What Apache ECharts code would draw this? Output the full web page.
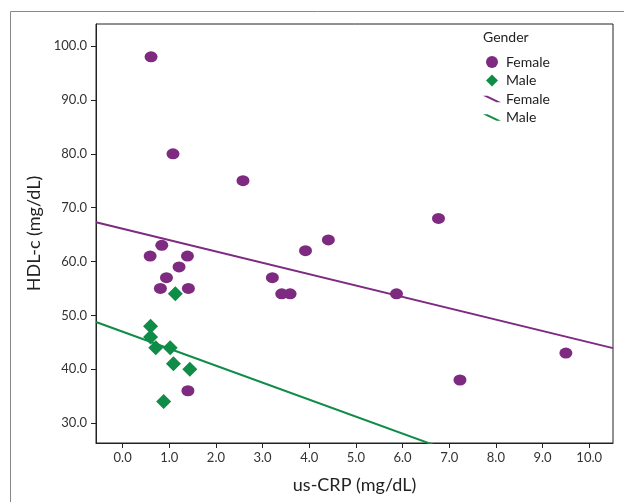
<!DOCTYPE html>
<html>
<head>
<meta charset="utf-8">
<script src="https://cdn.jsdelivr.net/npm/echarts@6/dist/echarts.min.js"></script>
<style>
  html, body { margin: 0; padding: 0; background: #fff; }
  #chart { width: 624px; height: 502px; }
</style>
</head>
<body>
<div id="chart"></div>
<script>
// 数据：us-CRP (x) 与 HDL-c (y)
var femaleX = [0.61, 1.08, 2.58, 0.84, 0.59, 1.39, 1.21, 0.94, 0.81, 1.41, 1.40, 3.21, 3.41, 3.59, 3.92, 4.41, 6.77, 5.87, 7.23, 9.50];
var femaleY = [98.0, 80.0, 75.0, 63.0, 61.0, 61.0, 59.0, 57.0, 55.0, 55.0, 36.0, 57.0, 54.0, 54.0, 62.0, 64.0, 68.0, 54.0, 38.0, 43.0];
var maleX = [1.13, 0.60, 0.60, 0.71, 1.02, 1.09, 1.44, 0.88];
var maleY = [54.0, 48.0, 46.0, 44.0, 44.0, 41.0, 40.0, 34.0];
// 回归线 (截距, 斜率)
var femaleFit = [66.07, -2.108];
var maleFit = [46.96, -3.153];
var xTicks = [0, 1, 2, 3, 4, 5, 6, 7, 8, 9, 10];
var yTicks = [30, 40, 50, 60, 70, 80, 90, 100];
var xMin = -0.57, xMax = 10.51, yMin = 26.3, yMax = 104.1;

var purple = '#7d2a80';
var green = '#0f8c47';

function pairs(xs, ys) {
  return xs.map(function (x, i) { return [x, ys[i]]; });
}
function fitLine(fit) {
  return [[xMin, fit[0] + fit[1] * xMin], [xMax, fit[0] + fit[1] * xMax]];
}

var chart = echarts.init(document.getElementById('chart'));
var lineIcon = 'path://M0,0 L5,0 L20,7 L15,7 Z';
var diamondIcon = 'path://M6,0 L12,6 L6,12 L0,6 Z';
var option = {
  animation: false,
  textStyle: { fontFamily: 'Lato' },
  graphic: [{
    type: 'rect',
    shape: { x: 10.5, y: 11.5, width: 700, height: 600 },
    style: { fill: 'none', stroke: '#888', lineWidth: 1 }
  }, {
    type: 'text',
    left: 483, top: 30,
    style: { text: 'Gender', font: '14px Lato', fill: '#222' }
  }],
  grid: {
    left: 96, top: 24, right: 11, bottom: 59,
    show: true, borderColor: '#222', borderWidth: 1
  },
  legend: {
    orient: 'vertical',
    left: 478, top: 50,
    itemWidth: 18, itemHeight: 12, itemGap: 4.5,
    symbolKeepAspect: true,
    textStyle: { fontSize: 14, color: '#222', fontFamily: 'Lato' },
    formatter: function (name) { return name.replace(' line', ''); },
    data: [
      { name: 'Female', icon: 'circle' },
      { name: 'Male', icon: diamondIcon },
      { name: 'Female line', icon: lineIcon },
      { name: 'Male line', icon: lineIcon }
    ]
  },
  xAxis: {
    type: 'value', min: xMin, max: xMax,
    name: 'us-CRP (mg/dL)', nameLocation: 'middle', nameGap: 33,
    nameTextStyle: { fontSize: 18, color: '#222', fontFamily: 'Lato' },
    axisLine: { show: true, onZero: false, lineStyle: { color: '#222' } },
    axisTick: { show: true, length: 5, lineStyle: { color: '#222' }, customValues: xTicks },
    axisLabel: {
      color: '#333', fontSize: 13, margin: 8, customValues: xTicks,
      formatter: function (v) { return v.toFixed(1); }
    },
    splitLine: { show: false }
  },
  yAxis: {
    type: 'value', min: yMin, max: yMax,
    name: 'HDL-c (mg/dL)', nameLocation: 'middle', nameGap: 49,
    nameTextStyle: { fontSize: 18, color: '#222', fontFamily: 'Lato' },
    axisLine: { show: true, onZero: false, lineStyle: { color: '#222' } },
    axisTick: { show: true, length: 5, lineStyle: { color: '#222' }, customValues: yTicks },
    axisLabel: {
      color: '#333', fontSize: 13, margin: 9, customValues: yTicks,
      formatter: function (v) { return v.toFixed(1); }
    },
    splitLine: { show: false }
  },
  series: [{
    name: 'Female line', type: 'line', data: fitLine(femaleFit),
    showSymbol: false, symbol: 'none', clip: true,
    lineStyle: { color: purple, width: 2 }, itemStyle: { color: purple }
  }, {
    name: 'Male line', type: 'line', data: fitLine(maleFit),
    showSymbol: false, symbol: 'none', clip: true,
    lineStyle: { color: green, width: 2 }, itemStyle: { color: green }
  }, {
    name: 'Female', type: 'scatter', data: pairs(femaleX, femaleY),
    symbol: 'circle', symbolSize: [13, 11],
    itemStyle: { color: purple, opacity: 1 }
  }, {
    name: 'Male', type: 'scatter', data: pairs(maleX, maleY),
    symbol: 'diamond', symbolSize: [15, 15],
    itemStyle: { color: green, opacity: 1 }
  }]
};
chart.setOption(option);
</script>
</body>
</html>
